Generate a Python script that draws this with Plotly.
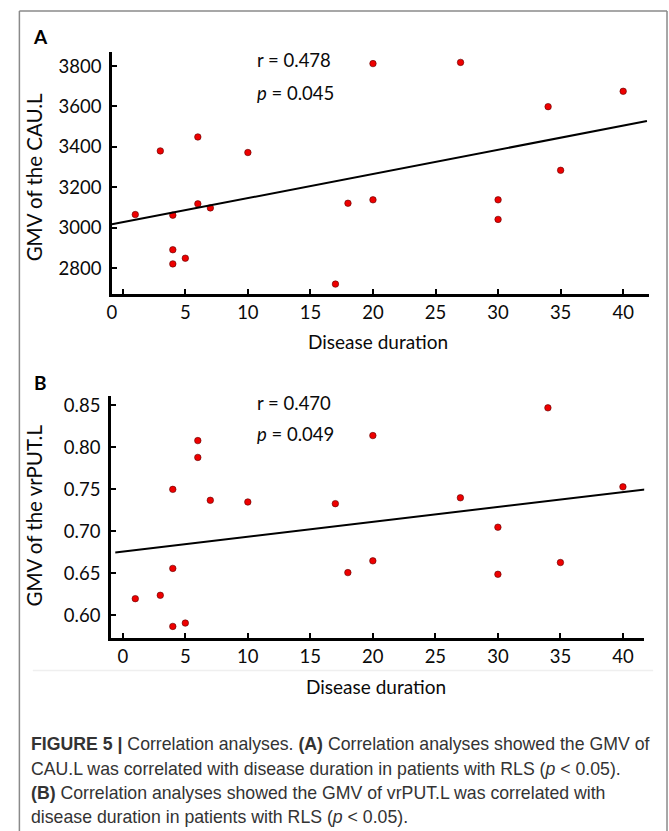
import plotly.graph_objects as go

W, H = 669, 831

# ---------------- data ----------------
duration_A = [1, 3, 4, 4, 4, 5, 6, 6, 7, 10, 17, 18, 20, 20, 27, 30, 30, 34, 35, 40]
gmv_cau_l = [3065, 3380, 3062, 2891, 2821, 2849, 3449, 3118, 3098, 3372,
             2721, 3121, 3812, 3138, 3818, 3138, 3041, 3599, 3284, 3675]
fit_A = {"intercept": 3027, "slope": 11.95, "x": [-0.87, 41.9]}
stats_A = ["r = 0.478", "<i>p</i> = 0.045"]

duration_B = [1, 3, 4, 4, 4, 5, 6, 6, 7, 10, 17, 18, 20, 20, 27, 30, 30, 34, 35, 40]
gmv_vrput_l = [0.620, 0.624, 0.750, 0.656, 0.587, 0.591, 0.808, 0.788, 0.737, 0.735,
               0.733, 0.651, 0.814, 0.665, 0.740, 0.705, 0.649, 0.847, 0.663, 0.753]
fit_B = {"intercept": 0.676, "slope": 0.00177, "x": [-0.6, 41.9]}
stats_B = ["r = 0.470", "<i>p</i> = 0.049"]

x_ticks = [0, 5, 10, 15, 20, 25, 30, 35, 40]
yA_ticks = [2800, 3000, 3200, 3400, 3600, 3800]
yB_ticks = [0.60, 0.65, 0.70, 0.75, 0.80, 0.85]

caption_lines = [
    "<b>FIGURE 5 |</b> Correlation analyses. <b>(A)</b> Correlation analyses showed the GMV of",
    "CAU.L was correlated with disease duration in patients with RLS (<i>p</i> &lt; 0.05).",
    "<b>(B)</b> Correlation analyses showed the GMV of vrPUT.L was correlated with",
    "disease duration in patients with RLS (<i>p</i> &lt; 0.05).",
]

# ---------------- helpers ----------------
def px(x):
    return x / W

def py(y):
    return 1 - y / H

FONT = "Lato"
marker = dict(color="#ee0000", size=6.5, line=dict(color="#5a0000", width=0.6))

fig = go.Figure()

# Panel A
fig.add_trace(go.Scatter(x=duration_A, y=gmv_cau_l, mode="markers", marker=marker,
                         xaxis="x", yaxis="y", showlegend=False, cliponaxis=False))
lxA = fit_A["x"]
fig.add_trace(go.Scatter(x=lxA, y=[fit_A["intercept"] + fit_A["slope"] * v for v in lxA],
                         mode="lines", line=dict(color="black", width=2),
                         xaxis="x", yaxis="y", showlegend=False, cliponaxis=False))
# Panel B
fig.add_trace(go.Scatter(x=duration_B, y=gmv_vrput_l, mode="markers", marker=marker,
                         xaxis="x2", yaxis="y2", showlegend=False, cliponaxis=False))
lxB = fit_B["x"]
fig.add_trace(go.Scatter(x=lxB, y=[fit_B["intercept"] + fit_B["slope"] * v for v in lxB],
                         mode="lines", line=dict(color="black", width=2),
                         xaxis="x2", yaxis="y2", showlegend=False, cliponaxis=False))

axis_common = dict(showline=True, linecolor="black", linewidth=2.6, ticks="inside",
                   ticklen=5, tickwidth=2, tickcolor="black", showgrid=False,
                   zeroline=False, tickfont=dict(family=FONT, size=18.5, color="#0a0a0a"))

xA_range = [-0.87, 42.1]
fig.update_layout(
    width=W, height=H, margin=dict(l=0, r=0, t=0, b=0),
    paper_bgcolor="white", plot_bgcolor="white",
    xaxis=dict(domain=[px(107.7), px(649.3)], range=xA_range, anchor="y",
               tickvals=[xA_range[0]] + x_ticks,
               ticktext=["0", ""] + [str(v) for v in x_ticks[1:]], **axis_common),
    yaxis=dict(domain=[py(292.7), py(50)], range=[2672, 3870], anchor="x",
               tickvals=yA_ticks, ticklabelstandoff=4, **axis_common),
    xaxis2=dict(domain=[px(106.7), px(644)], range=[-0.95, 41.7], anchor="y2",
                tickvals=x_ticks, **axis_common),
    yaxis2=dict(domain=[py(637.3), py(395)], range=[0.5735, 0.861], anchor="x2",
                tickvals=yB_ticks, tickformat=".2f", ticklabelstandoff=4, **axis_common),
)

ann = []
def add_text(text, x, y, size=18, xanchor="center", yanchor="middle", angle=0,
             family=FONT, color="#0a0a0a"):
    ann.append(dict(text=text, x=px(x), y=py(y), xref="paper", yref="paper",
                    showarrow=False, xanchor=xanchor, yanchor=yanchor, textangle=angle,
                    font=dict(family=family, size=size, color=color)))

# panel labels
add_text("<b>A</b>", 36, 35, size=19, color="black")
add_text("<b>B</b>", 36, 381, size=19, color="black")
# stats
add_text(stats_A[0], 252, 58, xanchor="left", size=18.5)
add_text(stats_A[1], 252, 91.5, xanchor="left", size=18.5)
add_text(stats_B[0], 252, 402, xanchor="left", size=18.5)
add_text(stats_B[1], 252, 433, xanchor="left", size=18.5)
# axis titles
add_text("GMV of the CAU.L", 29, 176, size=20.5, angle=-90)
add_text("GMV of the vrPUT.L", 29, 515, size=20.5, angle=-90)
add_text("Disease duration", 375.5, 340, size=19)
add_text("Disease duration", 374, 686, size=19)

# caption
cap_y = [744, 768.5, 793, 817]
for line, yy in zip(caption_lines, cap_y):
    add_text(line, 24, yy, size=17.7, xanchor="left", family="Liberation Sans",
             color="#333333")

fig.update_layout(annotations=ann)

# frame + faint separator
shapes = [
    dict(type="line", xref="paper", yref="paper", x0=px(14.5), x1=px(14.5), y0=py(9), y1=py(831),
         line=dict(color="#8a8a8a", width=1.5)),
    dict(type="line", xref="paper", yref="paper", x0=px(14.5), x1=px(667), y0=py(9), y1=py(9),
         line=dict(color="#8a8a8a", width=1.5)),
    dict(type="line", xref="paper", yref="paper", x0=px(667), x1=px(667), y0=py(9), y1=py(831),
         line=dict(color="#8a8a8a", width=1.5)),
    dict(type="line", xref="paper", yref="paper", x0=px(28), x1=px(653), y0=py(670), y1=py(670),
         line=dict(color="#efefef", width=1.5)),
]
fig.update_layout(shapes=shapes)

fig.write_html("out.html", config={"displayModeBar": False},
               post_script="document.body.style.margin='0';document.body.style.overflow='hidden';")
